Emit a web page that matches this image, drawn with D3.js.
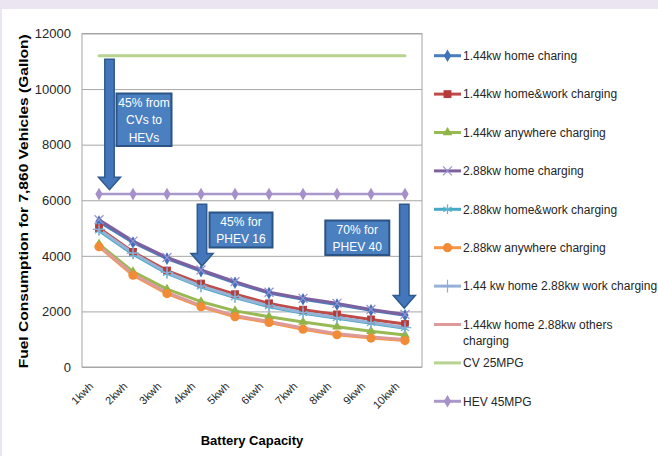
<!DOCTYPE html>
<html>
<head>
<meta charset="utf-8">
<script src="https://cdn.jsdelivr.net/npm/d3@7"></script>
<style>
  body { margin: 0; background: #fff; }
  text { font-family: "Liberation Sans", Arial, sans-serif; }
</style>
</head>
<body>
<div id="chart"></div>
<script>

// categories on the x axis
var categories = ["1kwh", "2kwh", "3kwh", "4kwh", "5kwh", "6kwh", "7kwh", "8kwh", "9kwh", "10kwh"];

// series values (gallons)
var home144        = [5230, 4480, 3900, 3450, 3030, 2660, 2440, 2250, 2040, 1860];
var homeWork144    = [5000, 4140, 3470, 3000, 2620, 2290, 2060, 1890, 1710, 1545];
var anywhere144    = [4420, 3430, 2800, 2350, 2020, 1810, 1620, 1450, 1290, 1150];
var home288        = [5300, 4530, 3940, 3490, 3070, 2690, 2470, 2290, 2070, 1890];
var homeWork288    = [4900, 4060, 3370, 2880, 2500, 2170, 1930, 1750, 1570, 1390];
var anywhere288    = [4330, 3300, 2640, 2170, 1810, 1600, 1360, 1160, 1040, 950];
var home144work288 = [4950, 4100, 3400, 2910, 2530, 2200, 1960, 1780, 1600, 1420];
var home144other288 = [4360, 3340, 2680, 2210, 1850, 1640, 1400, 1200, 1080, 990];
var cv25    = [11200, 11200, 11200, 11200, 11200, 11200, 11200, 11200, 11200, 11200];
var hev45   = [6222, 6222, 6222, 6222, 6222, 6222, 6222, 6222, 6222, 6222];

var seriesNames = ["1.44kw home charing", "1.44kw home&work charging", "1.44kw anywhere charging",
                   "2.88kw home charging", "2.88kw home&work charging", "2.88kw anywhere charging",
                   "1.44 kw home 2.88kw work charging", "1.44kw home 2.88kw others charging",
                   "CV 25MPG", "HEV 45MPG"];

// y axis ticks
var yTicks = [0, 2000, 4000, 6000, 8000, 10000, 12000];

// annotation arrows: category, top value, tip value, text lines
var arrowCats  = ["1kwh", "4kwh", "10kwh"];
var arrowTops  = [11070, 5860, 5860];
var arrowTips  = [6380, 3630, 2120];
var arrowTexts = [["45% from", "CVs to", "HEVs"], ["45% for", "PHEV 16"], ["70% for", "PHEV 40"]];

// styles (not data)
var styles = [
  { line: "#4a7ebb", marker: "diamond", fill: "#3f72b8" },
  { line: "#be4b48", marker: "square",  fill: "#b83b39" },
  { line: "#98b954", marker: "triangle", fill: "#8fb548" },
  { line: "#7d60a0", marker: "x",        stroke: "#9a8fd0" },
  { line: "#46aac5", marker: "asterisk", stroke: "#5fb6d0" },
  { line: "#f79646", marker: "circle",   fill: "#f18b35" },
  { line: "#95b3d7", marker: "plus",     stroke: "#8fabd6" },
  { line: "#dd9a98", marker: null },
  { line: "#b7d38f", marker: null },
  { line: "#ab98cb", marker: "diamond",  fill: "#a690c9" }
];
var allValues = [home144, homeWork144, anywhere144, home288, homeWork288, anywhere288,
                 home144work288, home144other288, cv25, hev45];

var svgWidth = 658, svgHeight = 456;
var plotLeft = 82, plotRight = 422, plotTop = 33.5, plotBottom = 367;

var svg = d3.select("#chart").append("svg")
    .attr("width", svgWidth)
    .attr("height", svgHeight);

// background and frame
svg.append("rect").attr("width", svgWidth).attr("height", svgHeight).attr("fill", "#fff");
svg.append("rect").attr("width", svgWidth).attr("height", 9).attr("fill", "#ebe5f1");
svg.append("rect").attr("width", 2).attr("height", svgHeight).attr("fill", "#ebe5f1");

// scales
var x = d3.scalePoint().domain(categories).range([plotLeft, plotRight]).padding(0.5);
var y = d3.scaleLinear().domain([0, 12000]).range([plotBottom, plotTop]);

// y axis with gridlines
var yAxis = svg.append("g")
    .attr("transform", "translate(" + plotLeft + ",0)")
    .call(d3.axisLeft(y).tickValues(yTicks).tickFormat(d3.format("d"))
            .tickSize(-(plotRight - plotLeft)).tickPadding(11));
yAxis.select(".domain").remove();
yAxis.selectAll(".tick line").attr("stroke", "#a6a6a6");
yAxis.selectAll(".tick text")
    .attr("fill", "#262626")
    .style("font-size", "13px");

// plot border
svg.append("rect")
    .attr("x", plotLeft).attr("y", plotTop)
    .attr("width", plotRight - plotLeft).attr("height", plotBottom - plotTop)
    .attr("fill", "none")
    .attr("stroke", "#a6a6a6");

// x labels, rotated
svg.append("g").selectAll("text")
    .data(categories)
    .enter()
    .append("text")
    .attr("transform", function(d) { return "translate(" + (x(d) - 5) + ",387) rotate(-45)"; })
    .attr("text-anchor", "end")
    .attr("fill", "#262626")
    .style("font-size", "11px")
    .text(function(d) { return d; });

// axis titles
svg.append("text")
    .attr("x", (plotLeft + plotRight) / 2)
    .attr("y", 445)
    .attr("text-anchor", "middle")
    .style("font-size", "13px")
    .style("font-weight", "bold")
    .attr("fill", "#000")
    .text("Battery Capacity");

svg.append("text")
    .attr("transform", "translate(28," + ((plotTop + plotBottom) / 2 + 1) + ") rotate(-90)")
    .attr("text-anchor", "middle")
    .attr("textLength", 334)
    .attr("lengthAdjust", "spacingAndGlyphs")
    .style("font-size", "13px")
    .style("font-weight", "bold")
    .attr("fill", "#000")
    .text("Fuel Consumption for 7,860 Vehicles (Gallon)");

// marker drawing
var symbolTypes = {
  diamond: d3.symbolDiamond, square: d3.symbolSquare, triangle: d3.symbolTriangle,
  circle: d3.symbolCircle, x: d3.symbolTimes, asterisk: d3.symbolAsterisk, plus: d3.symbolPlus
};
var symbolSizes = { diamond: 46, square: 62, triangle: 40, circle: 66, x: 54, asterisk: 64, plus: 54 };

function drawMarker(g, st, cx, cy) {
  if (!st.marker) return;
  var path = d3.symbol().type(symbolTypes[st.marker]).size(symbolSizes[st.marker])();
  var m = g.append("path")
      .attr("d", path)
      .attr("transform", "translate(" + cx + "," + cy + ")");
  if (st.fill) {
    m.attr("fill", st.fill);
  } else {
    m.attr("fill", "none").attr("stroke", st.stroke).attr("stroke-width", 1.2);
  }
}

// lines
var line = d3.line()
    .x(function(d, i) { return x(categories[i]); })
    .y(function(d) { return y(d); });

var linesG = svg.append("g");
allValues.forEach(function(vals, s) {
  linesG.append("path")
      .datum(vals)
      .attr("d", line)
      .attr("fill", "none")
      .attr("stroke", styles[s].line)
      .attr("stroke-width", s == 9 ? 2.5 : 3)
      .attr("stroke-linejoin", "round")
      .attr("stroke-linecap", "round");
});

// markers on top
var markersG = svg.append("g");
allValues.forEach(function(vals, s) {
  vals.forEach(function(v, i) {
    drawMarker(markersG, styles[s], x(categories[i]), y(v));
  });
});

// annotation arrows and boxes
var boxOffsets = [
  { dx: 7,  top: 93.5,  w: 55, h: 52.5, lineH: 17.5 },
  { dx: 7.5, top: 212.5, w: 63, h: 35,  lineH: 17.5 },
  { dx: -79, top: 220.5, w: 64, h: 34.5, lineH: 17 }
];
var arrowOffsets = [10.5, 1, -0.7];

var annG = svg.append("g");
arrowCats.forEach(function(c, i) {
  var cx = x(c) + arrowOffsets[i];
  var y0 = y(arrowTops[i]), y1 = y(arrowTips[i]);
  var hw = 4.7, hh = 11, hl = 12.5;
  var pts = [[cx - hw, y0], [cx + hw, y0], [cx + hw, y1 - hl], [cx + hh, y1 - hl],
             [cx, y1], [cx - hh, y1 - hl], [cx - hw, y1 - hl]];
  annG.append("path")
      .attr("d", "M" + pts.join("L") + "Z")
      .attr("fill", "#4376bb")
      .attr("stroke", "#2f5a8e")
      .attr("stroke-width", 1.5);

  var b = boxOffsets[i];
  var bx = cx + b.dx;
  annG.append("rect")
      .attr("x", bx).attr("y", b.top)
      .attr("width", b.w).attr("height", b.h)
      .attr("fill", "#4a7fc0")
      .attr("stroke", "#2b5384")
      .attr("stroke-width", 2);
  var lines = arrowTexts[i];
  lines.forEach(function(t, j) {
    annG.append("text")
        .attr("x", bx + b.w / 2)
        .attr("y", b.top + b.h / 2 + (j - (lines.length - 1) / 2) * b.lineH)
        .attr("dy", "0.36em")
        .attr("text-anchor", "middle")
        .attr("fill", "#fff")
        .style("font-size", "12px")
        .text(t);
  });
});

// legend
var legend = svg.append("g");
var legendLines = [["1.44kw home charing"], ["1.44kw home&work charging"], ["1.44kw anywhere charging"],
                   ["2.88kw home charging"], ["2.88kw home&work charging"], ["2.88kw anywhere charging"],
                   ["1.44 kw home 2.88kw work charging"], ["1.44kw home 2.88kw others", "charging"],
                   ["CV 25MPG"], ["HEV 45MPG"]];
seriesNames.forEach(function(name, i) {
  var ly = 55.7 + i * 38.4;
  legend.append("line")
      .attr("x1", 434).attr("x2", 461)
      .attr("y1", ly).attr("y2", ly)
      .attr("stroke", styles[i].line)
      .attr("stroke-width", 3);
  drawMarker(legend, styles[i], 447.5, ly);
  legendLines[i].forEach(function(t, j) {
    legend.append("text")
        .attr("x", 463)
        .attr("y", ly + j * 16.5)
        .attr("dy", "0.36em")
        .attr("fill", "#262626")
        .style("font-size", "12px")
        .text(t);
  });
});

</script>
</body>
</html>
